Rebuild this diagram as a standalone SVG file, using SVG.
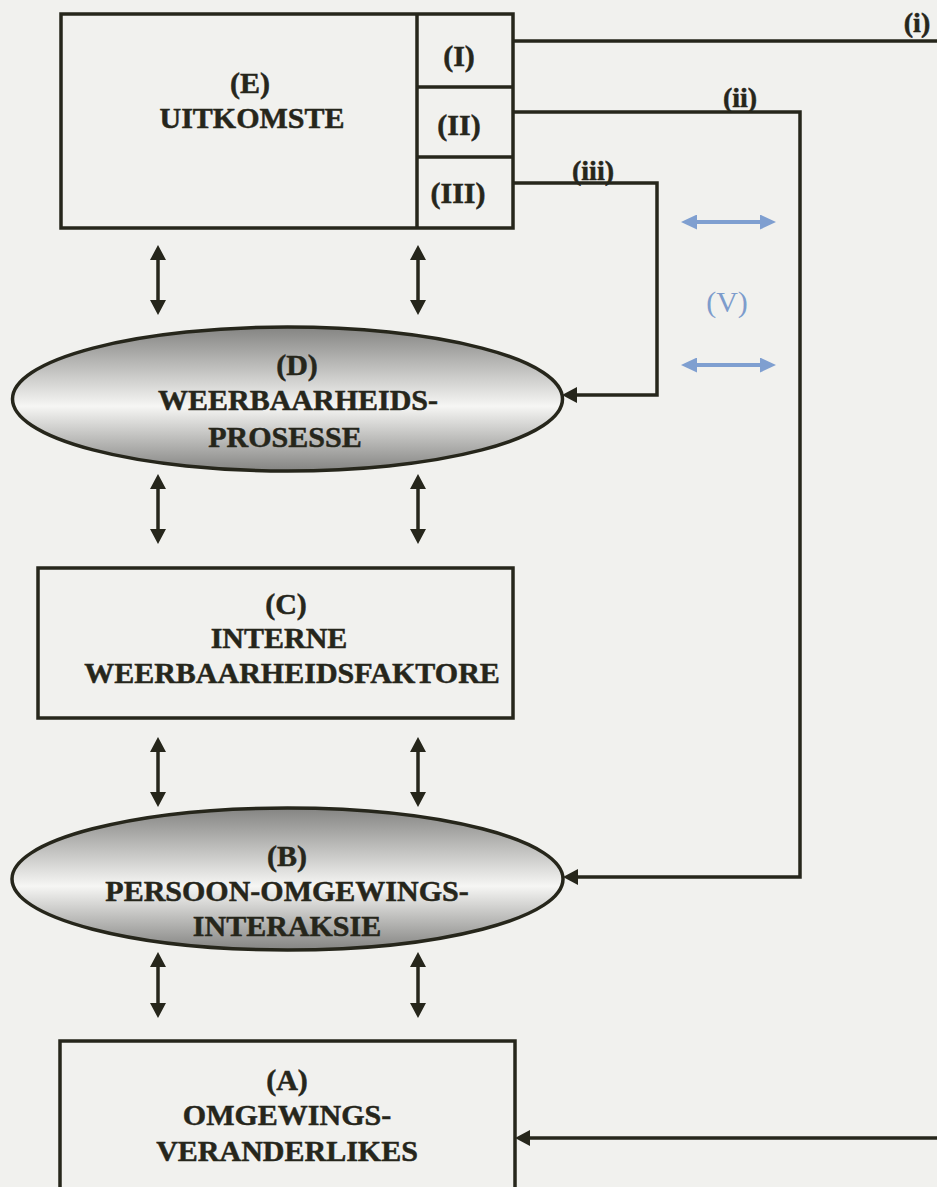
<svg xmlns="http://www.w3.org/2000/svg" width="937" height="1187" viewBox="0 0 937 1187">
  <style>
    .box { fill: none; stroke: #26261b; stroke-width: 3.5; }
    .ell { fill: url(#shade); stroke: #26261b; stroke-width: 3.5; }
    .lbl { font-family: "Liberation Serif", "Times New Roman", serif; font-weight: bold; font-size: 30px; fill: #26261b; stroke: #26261b; stroke-width: 0.5; text-anchor: middle; }
    .small { font-size: 28px; }
    .blue { font-family: "Liberation Serif", "Times New Roman", serif; font-size: 30px; fill: #7d9ccc; text-anchor: middle; }
    .wire { fill: none; stroke: #26261b; stroke-width: 3.5; }
    .link { fill: none; stroke: #26261b; stroke-width: 3.5; marker-start: url(#head); marker-end: url(#head); }
    .feed { fill: none; stroke: #26261b; stroke-width: 3.5; marker-end: url(#head); }
    .mutual { fill: none; stroke: #7f9fd0; stroke-width: 4; marker-start: url(#bhead); marker-end: url(#bhead); }
  </style>
  <defs>
    <linearGradient id="shade" x1="0" y1="0" x2="0" y2="1">
      <stop offset="0" stop-color="#848482"/>
      <stop offset="0.55" stop-color="#f6f6f4"/>
      <stop offset="1" stop-color="#848482"/>
    </linearGradient>
    <marker id="head" markerUnits="userSpaceOnUse" markerWidth="15" markerHeight="16" refX="11" refY="8" orient="auto-start-reverse">
      <path d="M0,0 L15,8 L0,16 z" fill="#26261b"/>
    </marker>
    <marker id="bhead" markerUnits="userSpaceOnUse" markerWidth="16" markerHeight="15" refX="11" refY="7.5" orient="auto-start-reverse">
      <path d="M0,0 L16,7.5 L0,15 z" fill="#7f9fd0"/>
    </marker>
  </defs>

  <!-- paper -->
  <rect x="0" y="0" width="937" height="1187" fill="#f1f1ee"/>

  <!-- (E) outcomes with its three sub-cells -->
  <g id="node-E">
    <rect class="box" x="61" y="14" width="452" height="214"/>
    <path class="wire" d="M417,14 V228 M417,87 H513 M417,157 H513"/>
    <text class="lbl" x="250" y="93">(E)</text>
    <text class="lbl" x="252" y="128">UITKOMSTE</text>
    <text class="lbl" x="459" y="66">(I)</text>
    <text class="lbl" x="459" y="135">(II)</text>
    <text class="lbl" x="458" y="203">(III)</text>
  </g>

  <!-- (D) resilience processes -->
  <g id="node-D">
    <ellipse class="ell" cx="287.5" cy="399" rx="275" ry="72"/>
    <text class="lbl" x="297" y="375">(D)</text>
    <text class="lbl" x="298" y="410">WEERBAARHEIDS-</text>
    <text class="lbl" x="285" y="447">PROSESSE</text>
  </g>

  <!-- (C) internal resilience factors -->
  <g id="node-C">
    <rect class="box" x="38" y="568" width="475" height="150"/>
    <text class="lbl" x="286" y="614">(C)</text>
    <text class="lbl" x="279" y="648">INTERNE</text>
    <text class="lbl" x="292" y="683">WEERBAARHEIDSFAKTORE</text>
  </g>

  <!-- (B) person-environment interaction -->
  <g id="node-B">
    <ellipse class="ell" cx="287.5" cy="879" rx="275.5" ry="71"/>
    <text class="lbl" x="287" y="866">(B)</text>
    <text class="lbl" x="287" y="901">PERSOON-OMGEWINGS-</text>
    <text class="lbl" x="287" y="936">INTERAKSIE</text>
  </g>

  <!-- (A) environmental variables -->
  <g id="node-A">
    <rect class="box" x="60" y="1041" width="455" height="170"/>
    <text class="lbl" x="287" y="1090">(A)</text>
    <text class="lbl" x="287" y="1125">OMGEWINGS-</text>
    <text class="lbl" x="287" y="1161">VERANDERLIKES</text>
  </g>

  <!-- connectors -->
  <g id="connectors">
    <!-- two-way links between the stacked levels -->
    <path class="link" d="M158,249 V311"/>
    <path class="link" d="M418,249 V311"/>
    <path class="link" d="M158,478 V540"/>
    <path class="link" d="M418,478 V540"/>
    <path class="link" d="M158,741 V803"/>
    <path class="link" d="M418,741 V803"/>
    <path class="link" d="M158,956 V1014"/>
    <path class="link" d="M418,956 V1014"/>

    <!-- feedback routes from the outcome cells -->
    <path class="wire" d="M513,41 H940"/>
    <path class="feed" d="M513,112 H800 V877 H567"/>
    <path class="feed" d="M513,183 H657 V395 H566"/>
    <path class="feed" d="M940,1138 H519"/>

    <text class="lbl small" x="917" y="32">(i)</text>
    <text class="lbl small" x="740" y="107">(ii)</text>
    <text class="lbl small" x="593" y="180">(iii)</text>

    <!-- (V) mutual influence -->
    <path class="mutual" d="M686,222 H771"/>
    <path class="mutual" d="M686,365 H771"/>
    <text class="blue" x="727" y="312">(V)</text>
  </g>
</svg>
